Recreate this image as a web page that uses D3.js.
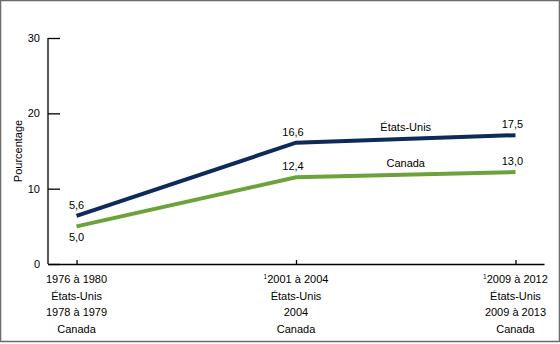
<!DOCTYPE html>
<html><head><meta charset="utf-8">
<script src="https://cdn.jsdelivr.net/npm/d3@7"></script>
<style>
html,body{margin:0;padding:0;background:#fff;}
svg{display:block;font-family:"Liberation Sans",Arial,sans-serif;}
</style></head>
<body>
<svg id="c" width="560" height="344"></svg>
<script>
const categories = ["p1", "p2", "p3"];
const tickLines = [
  ["1976 à 1980", "États-Unis", "1978 à 1979", "Canada"],
  ["2001 à 2004", "États-Unis", "2004", "Canada"],
  ["2009 à 2012", "États-Unis", "2009 à 2013", "Canada"]
];
const tickNote = ["", "1", "1"];
const usValues = [6.4, 16.1, 17.1];
const canadaValues = [5.0, 11.5, 12.2];
const usLabels = ["5,6", "16,6", "17,5"];
const canadaLabels = ["5,0", "12,4", "13,0"];
const yTicks = [0, 10, 20, 30];
const seriesNames = ["États-Unis", "Canada"];

const svg = d3.select("#c");
svg.append("rect").attr("x", 0.5).attr("y", 0.5).attr("width", 559).attr("height", 341)
  .attr("fill", "#fff").attr("stroke", "#6b6b6b").attr("stroke-width", 1.5);

const x = d3.scalePoint().domain(categories).range([48, 544]).padding(0.13);
const y = d3.scaleLinear().domain([0, 30]).range([264, 38]);

// y axis
const ya = svg.append("g").attr("transform", "translate(48,0)")
  .call(d3.axisRight(y).tickValues(yTicks).tickSize(12).tickFormat(d3.format("d")));
ya.select(".domain").attr("stroke", "#000").attr("stroke-width", 1.3).attr("d", "M0,38V264");
ya.selectAll(".tick line").attr("stroke", "#000").attr("stroke-width", 1.3);
ya.selectAll(".tick text").attr("x", -8).attr("text-anchor", "end")
  .attr("font-size", 11).attr("fill", "#000").attr("font-family", "Liberation Sans, Arial, sans-serif");

// x axis
const xa = svg.append("g").attr("transform", "translate(0,264)")
  .call(d3.axisTop(x).tickSize(4).tickSizeOuter(0).tickFormat(""));
xa.select(".domain").attr("stroke", "#000").attr("stroke-width", 1.3);
xa.selectAll(".tick line").attr("stroke", "#000").attr("stroke-width", 1.3);

const xl = svg.append("g");
categories.forEach((c, i) => {
  tickLines[i].forEach((t, j) => {
    const txt = xl.append("text").attr("x", x(c)).attr("y", 283 + j * 16.5)
      .attr("text-anchor", "middle").attr("font-size", 11).attr("fill", "#000");
    if (j === 0 && tickNote[i]) {
      txt.append("tspan").attr("font-size", 6.5).attr("dy", -4).text(tickNote[i]);
      txt.append("tspan").attr("dy", 4).text(t);
    } else {
      txt.text(t);
    }
  });
});

// y label
svg.append("text").attr("transform", "translate(22,151) rotate(-90)")
  .attr("text-anchor", "middle").attr("font-size", 11).attr("fill", "#000").text("Pourcentage");

const line = d3.line().x((d, i) => x(categories[i])).y(d => y(d));
svg.append("path").datum(canadaValues).attr("d", line).attr("fill", "none")
  .attr("stroke", "#6ba33a").attr("stroke-width", 4);
svg.append("path").datum(usValues).attr("d", line).attr("fill", "none")
  .attr("stroke", "#0d2a5a").attr("stroke-width", 4);

// value labels
const lbl = svg.append("g").attr("font-size", 11).attr("fill", "#000").attr("text-anchor", "middle");
const usOff = [-7, -7, -7];
usLabels.forEach((t, i) => {
  lbl.append("text").attr("x", x(categories[i]) - (i ? 3 : 0)).attr("y", y(usValues[i]) + usOff[i]).text(t);
});
canadaLabels.forEach((t, i) => {
  lbl.append("text").attr("x", x(categories[i]) - (i ? 3 : 0))
    .attr("y", i === 0 ? y(canadaValues[i]) + 15 : y(canadaValues[i]) - 7).text(t);
});
// series names
const midX = (x(categories[1]) + x(categories[2])) / 2;
lbl.append("text").attr("x", midX).attr("y", y((usValues[1] + usValues[2]) / 2) - 8).text(seriesNames[0]);
lbl.append("text").attr("x", midX).attr("y", y((canadaValues[1] + canadaValues[2]) / 2) - 8).text(seriesNames[1]);
</script>
</body></html>
